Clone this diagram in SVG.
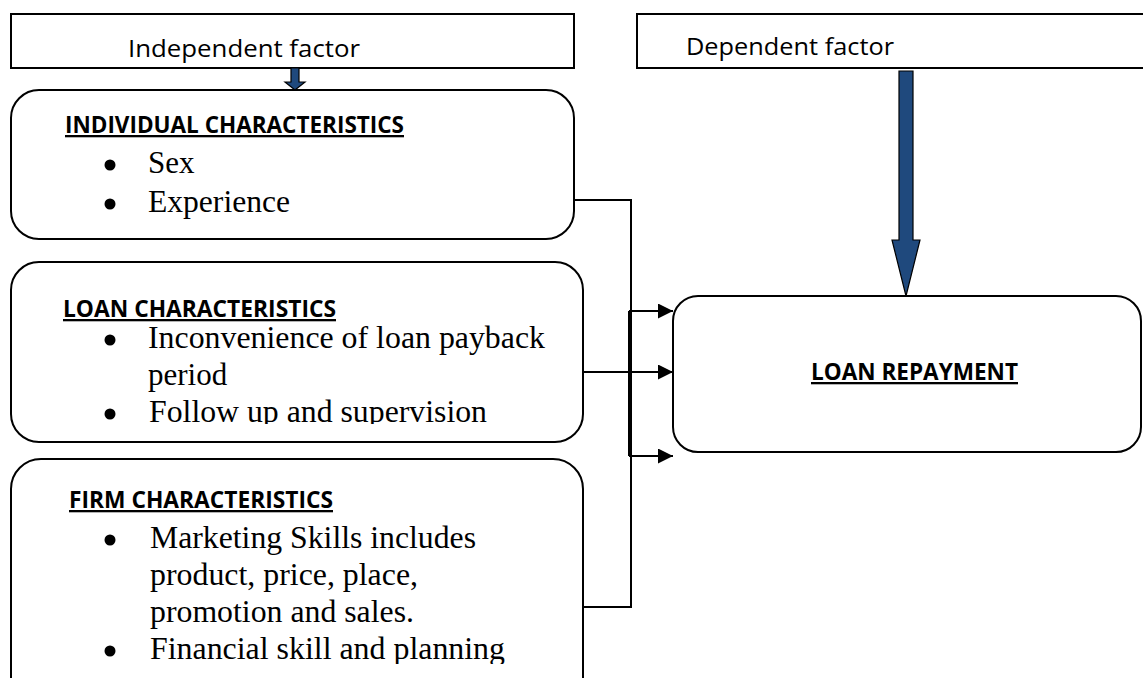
<svg xmlns="http://www.w3.org/2000/svg" width="1143" height="678" viewBox="0 0 1143 678">
  <style>
    .box{fill:#fff;stroke:#000;stroke-width:2}
    .sans{font-family:"Open Sans","Liberation Sans",sans-serif;font-size:24px;fill:#000}
    .title{font-family:"Open Sans","Liberation Sans",sans-serif;font-weight:bold;font-size:23px;fill:#000;text-decoration:underline}
    .serif{font-family:"Liberation Serif","Times New Roman",serif;font-size:31px;fill:#000}
    .conn{fill:none;stroke:#000;stroke-width:2}
    .blue{fill:#1F497D;stroke:#000;stroke-width:1.2}
    .dot{fill:#000}
  </style>
  <defs>
    <marker id="ah" markerUnits="userSpaceOnUse" markerWidth="15" markerHeight="15" refX="15" refY="7.5" orient="auto">
      <path d="M0,0 L15,7.5 L0,15 z" fill="#000"/>
    </marker>
    <clipPath id="clipLoan"><rect x="0" y="250" width="600" height="174"/></clipPath>
    <clipPath id="clipFirm"><rect x="0" y="450" width="600" height="214"/></clipPath>
  </defs>

  <g id="independent-factor">
    <rect class="box" x="11" y="14" width="563" height="54"/>
    <text class="sans" x="128" y="57" textLength="232" lengthAdjust="spacingAndGlyphs">Independent factor</text>
  </g>

  <g id="dependent-factor">
    <rect class="box" x="637" y="14" width="515" height="54"/>
    <text class="sans" x="686" y="55" textLength="208" lengthAdjust="spacingAndGlyphs">Dependent factor</text>
  </g>

  <g id="individual-characteristics">
    <rect class="box" x="11" y="90" width="563" height="149" rx="28" ry="28"/>
    <text class="title" x="65" y="133" textLength="339" lengthAdjust="spacingAndGlyphs">INDIVIDUAL CHARACTERISTICS</text>
    <circle class="dot" cx="110" cy="165" r="5.5"/>
    <text class="serif" x="148" y="173">Sex</text>
    <circle class="dot" cx="110" cy="204" r="5.5"/>
    <text class="serif" x="148" y="212" textLength="142" lengthAdjust="spacingAndGlyphs">Experience</text>
  </g>

  <g id="loan-characteristics">
    <rect class="box" x="11" y="262" width="572" height="180" rx="28" ry="28"/>
    <text class="title" x="63" y="317" textLength="273" lengthAdjust="spacingAndGlyphs">LOAN CHARACTERISTICS</text>
    <g clip-path="url(#clipLoan)">
      <circle class="dot" cx="110" cy="340" r="5.5"/>
      <text class="serif" x="148" y="348" textLength="397" lengthAdjust="spacingAndGlyphs">Inconvenience of loan payback</text>
      <text class="serif" x="148" y="385">period</text>
      <circle class="dot" cx="110" cy="414" r="5.5"/>
      <text class="serif" x="149" y="422" textLength="338" lengthAdjust="spacingAndGlyphs">Follow up and supervision</text>
    </g>
  </g>

  <g id="firm-characteristics">
    <rect class="box" x="11" y="459" width="572" height="260" rx="30" ry="30"/>
    <text class="title" x="69" y="508" textLength="264" lengthAdjust="spacingAndGlyphs">FIRM CHARACTERISTICS</text>
    <g clip-path="url(#clipFirm)">
      <circle class="dot" cx="110" cy="540" r="5.5"/>
      <text class="serif" x="150" y="548" textLength="326" lengthAdjust="spacingAndGlyphs">Marketing Skills includes</text>
      <text class="serif" x="150" y="585" textLength="268" lengthAdjust="spacingAndGlyphs">product, price, place,</text>
      <text class="serif" x="150" y="622" textLength="264" lengthAdjust="spacingAndGlyphs">promotion and sales.</text>
      <circle class="dot" cx="110" cy="651" r="5.5"/>
      <text class="serif" x="150" y="659" textLength="355" lengthAdjust="spacingAndGlyphs">Financial skill and planning</text>
    </g>
  </g>

  <g id="loan-repayment">
    <rect class="box" x="673" y="296" width="468" height="156" rx="25" ry="25"/>
    <text class="title" x="811" y="380" textLength="207" lengthAdjust="spacingAndGlyphs">LOAN REPAYMENT</text>
  </g>

  <g id="connectors">
    <polygon class="blue" points="291,68 299,68 299,82 305,82 295,90 285,82 291,82"/>
    <polygon class="blue" points="899,71 913,71 913,240 920,240 906,296 892,240 899,240"/>
    <path class="conn" d="M574,200 H631 V607 H583"/>
    <path class="conn" d="M629,311 V456"/>
    <path class="conn" d="M629,311 H673" marker-end="url(#ah)"/>
    <path class="conn" d="M583,372 H673" marker-end="url(#ah)"/>
    <path class="conn" d="M629,456 H673" marker-end="url(#ah)"/>
  </g>
</svg>
